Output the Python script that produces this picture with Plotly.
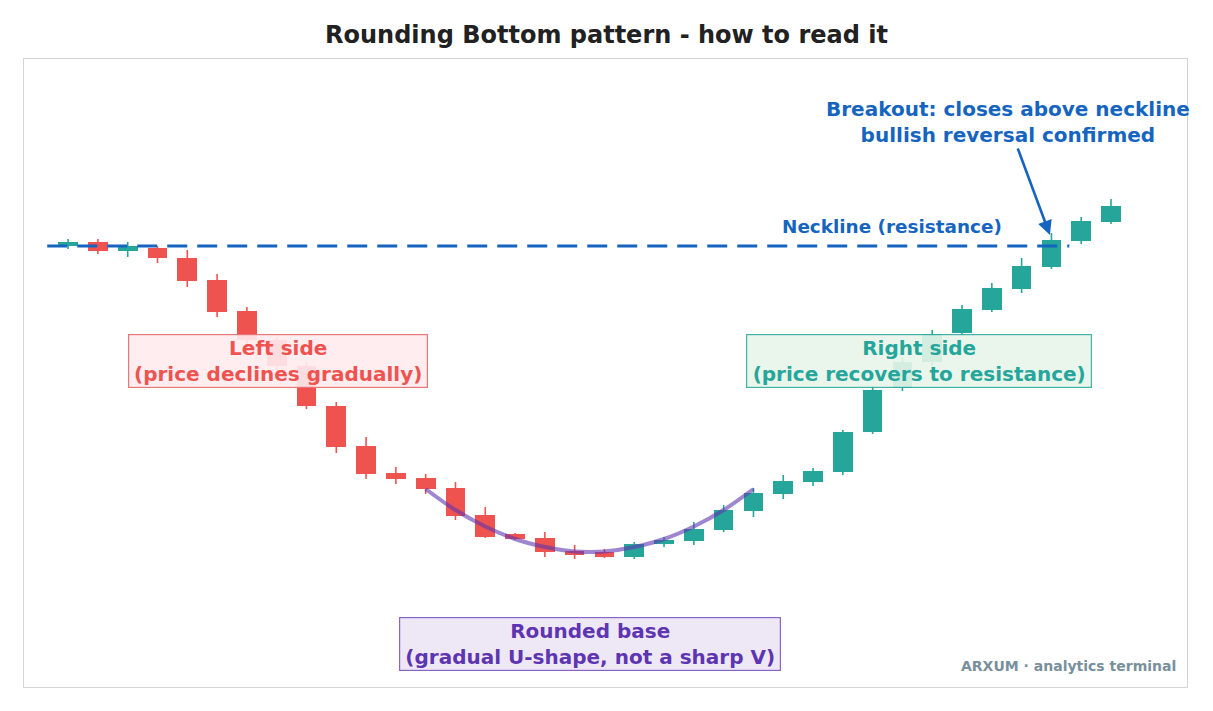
import plotly.graph_objects as go

# ---- data ----
idx = list(range(36))
opens = [100.0, 100.4, 99.5, 99.8, 98.8, 96.6, 93.5, 90.6, 88.0, 84.0, 80.0, 77.3,
         76.8, 75.8, 73.1, 71.2, 70.8, 69.5, 69.4, 68.9, 70.2, 70.5, 71.6, 73.5,
         75.2, 76.4, 77.4, 81.4, 85.8, 88.4, 91.3, 93.6, 95.7, 97.9, 100.5, 102.4]
highs = [100.7, 100.7, 100.4, 100.0, 99.6, 97.2, 93.9, 90.9, 88.4, 84.4, 80.9, 77.9,
         77.2, 76.4, 73.9, 71.3, 71.4, 70.1, 69.7, 70.4, 70.9, 72.4, 74.1, 75.8,
         77.1, 77.8, 81.6, 86.0, 88.9, 91.6, 94.1, 96.3, 98.8, 101.3, 102.9, 104.7]
lows = [99.7, 99.2, 98.9, 98.3, 95.9, 92.9, 90.2, 87.6, 83.7, 79.3, 76.7, 76.2,
        75.2, 72.6, 70.8, 70.6, 68.9, 68.7, 68.8, 68.7, 69.9, 70.1, 71.4, 72.9,
        74.7, 76.0, 77.1, 81.2, 85.5, 88.0, 91.0, 93.4, 95.3, 97.7, 100.2, 102.2]
closes = [100.4, 99.5, 100.0, 98.8, 96.5, 93.4, 90.6, 88.0, 84.0, 79.9, 77.2, 76.7,
          75.7, 73.0, 70.9, 70.7, 69.4, 69.1, 68.9, 70.2, 70.6, 71.7, 73.6, 75.3,
          76.5, 77.5, 81.4, 85.6, 88.4, 91.2, 93.7, 95.8, 98.0, 100.6, 102.5, 104.0]

neckline_level = 100.0
neckline_x = [-0.7, 33.6]

base_x = [12, 13, 14, 15, 16, 17, 17.5, 18, 19, 20, 21, 22, 23]
base_y = [75.7, 73.6, 71.95, 70.7, 69.9, 69.45, 69.4, 69.45, 69.9, 70.7, 71.95, 73.6, 75.7]

UP = "#26A69A"
DOWN = "#EF5350"
BLUE = "#1565C0"
PURPLE = "#5E35B1"
FONT = "DejaVu Sans"

fig = go.Figure()

# wicks
for col, cond in ((UP, lambda o, c: c >= o), (DOWN, lambda o, c: c < o)):
    wx, wy = [], []
    for i, o, h, l, c in zip(idx, opens, highs, lows, closes):
        if cond(o, c):
            wx += [i, i, None]
            wy += [l, h, None]
    fig.add_trace(go.Scatter(x=wx, y=wy, mode="lines", line=dict(color=col, width=1.6),
                             hoverinfo="skip", showlegend=False))

# bodies
base_vals = [min(o, c) for o, c in zip(opens, closes)]
heights = [abs(c - o) for o, c in zip(opens, closes)]
colors = [UP if c >= o else DOWN for o, c in zip(opens, closes)]
fig.add_trace(go.Bar(x=idx, y=heights, base=base_vals, width=0.66,
                     marker=dict(color=colors, line=dict(width=0)),
                     showlegend=False, hoverinfo="skip"))

# neckline
fig.add_trace(go.Scatter(x=neckline_x, y=[neckline_level, neckline_level], mode="lines",
                         line=dict(color=BLUE, width=3, dash="20px,10px"),
                         showlegend=False, hoverinfo="skip"))

# rounded base curve
fig.add_trace(go.Scatter(x=base_x, y=base_y, mode="lines",
                         line=dict(color="rgba(94,53,177,0.6)", width=4, shape="spline"),
                         showlegend=False, hoverinfo="skip"))

ann_font = dict(family=FONT, size=20, weight="bold")
box_common = dict(showarrow=False, borderwidth=1.2, borderpad=0, height=52)
annotations = [
    dict(x=7.03, y=88.5, text="Left side<br>(price declines gradually)", width=298,
         font=dict(ann_font, color=DOWN), bgcolor="rgba(255,235,238,0.9)",
         bordercolor="rgba(229,115,115,0.95)", **box_common),
    dict(x=28.54, y=88.5, text="Right side<br>(price recovers to resistance)", width=344,
         font=dict(ann_font, color=UP), bgcolor="rgba(232,245,233,0.9)",
         bordercolor="rgba(38,166,154,0.85)", **box_common),
    dict(x=17.53, y=60.2, text="Rounded base<br>(gradual U-shape, not a sharp V)", width=380,
         font=dict(ann_font, color=PURPLE), bgcolor="rgba(237,231,246,0.95)",
         bordercolor="rgba(126,87,194,0.9)", **box_common),
    dict(x=27.65, y=102.0, text="Neckline (resistance)", showarrow=False,
         font=dict(family=FONT, size=18.4, weight="bold", color=BLUE)),
    dict(x=32.95, y=101.1, text="Breakout: closes above neckline<br>bullish reversal confirmed",
         showarrow=True, ax=-42, ay=-113, arrowhead=2, arrowsize=1.1, arrowwidth=2.6,
         arrowcolor=BLUE, font=dict(family=FONT, size=20, weight="bold", color=BLUE)),
    dict(xref="paper", yref="paper", x=0.992, y=0.033, xanchor="right", yanchor="middle",
         text="ARXUM · analytics terminal", showarrow=False,
         font=dict(family=FONT, size=14, weight="bold", color="#78909C")),
]

fig.update_layout(
    width=1213, height=711,
    margin=dict(l=24, r=26, t=59, b=24),
    paper_bgcolor="white", plot_bgcolor="white",
    title=dict(text="Rounding Bottom pattern - how to read it", x=0.5, xanchor="center",
               y=1 - 35 / 711, yanchor="middle",
               font=dict(family=FONT, size=24, weight="bold", color="#212121")),
    xaxis=dict(range=[-1.48, 37.55], showgrid=False, zeroline=False, showticklabels=False,
               ticks="", showline=True, mirror=True, linecolor="#D5D5D5", linewidth=1),
    yaxis=dict(range=[55.9, 118.7], showgrid=False, zeroline=False, showticklabels=False,
               ticks="", showline=True, mirror=True, linecolor="#D5D5D5", linewidth=1),
    annotations=annotations,
    bargap=0,
)

fig.write_html("out.html", config={"displayModeBar": False},
               post_script="document.body.style.margin='0';")
